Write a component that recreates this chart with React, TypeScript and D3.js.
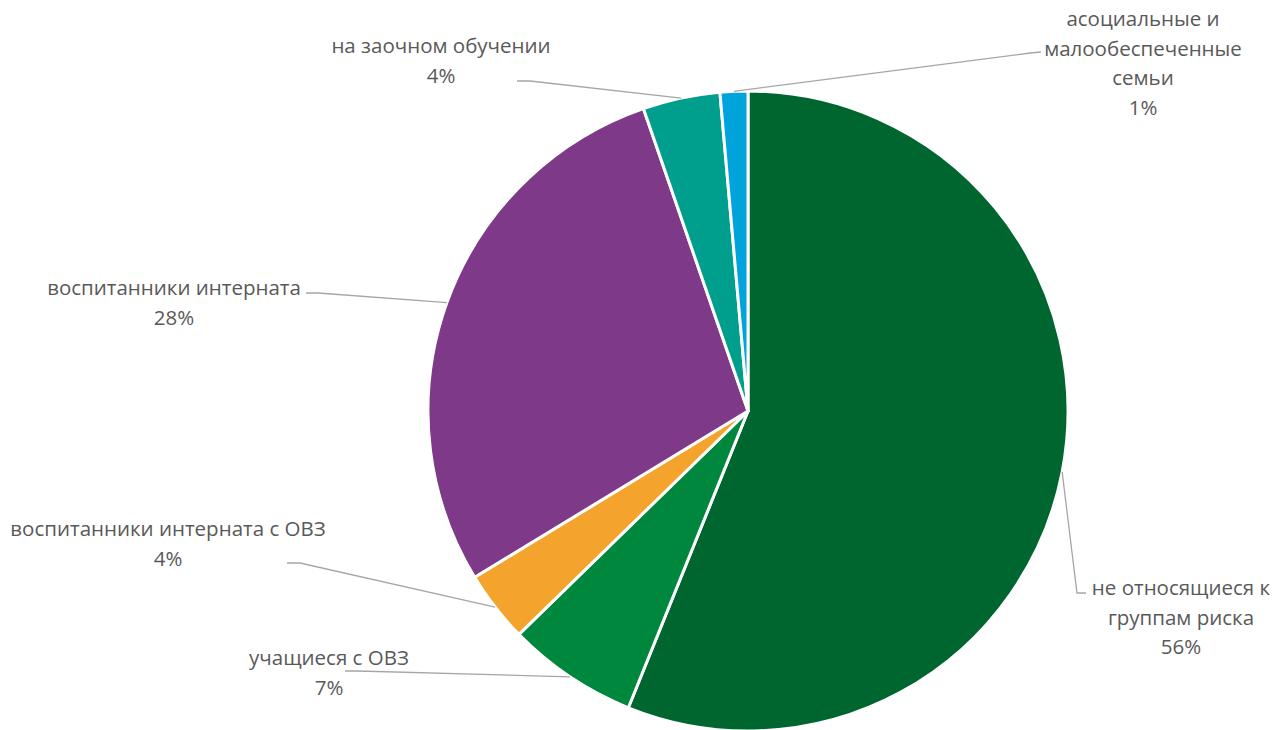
import { useEffect, useRef } from 'react';
import * as d3 from 'd3';

// Data (share of students, %)
const categories = [
  'не относящиеся к группам риска',
  'учащиеся с ОВЗ',
  'воспитанники интерната с ОВЗ',
  'воспитанники интерната',
  'на заочном обучении',
  'асоциальные и малообеспеченные семьи',
];
const values = [56.1, 6.6, 3.6, 28.4, 3.9, 1.4];
const colors = ['#00662F', '#00873E', '#F4A42C', '#7E3988', '#009E8C', '#00A3DB'];

// label text lines (as wrapped in the source chart)
const labelLines = [
  ['не относящиеся к', 'группам риска'],
  ['учащиеся с ОВЗ'],
  ['воспитанники интерната с ОВЗ'],
  ['воспитанники интерната'],
  ['на заочном обучении'],
  ['асоциальные и', 'малообеспеченные', 'семьи'],
];

// label layout: text block centre x, first line y, leader elbow and end points
const labelLayout = [
  { x: 1181, y: 587, elbow: [1077, 593], end: [1086, 593] },
  { x: 329, y: 657, elbow: [358, 671], end: [345, 671] },
  { x: 168, y: 528, elbow: [300, 563], end: [287, 563] },
  { x: 174, y: 287, elbow: [318, 293], end: [306, 293] },
  { x: 441, y: 45, elbow: [530, 81], end: [517, 81] },
  { x: 1143, y: 18, elbow: [1030, 53], end: [1041, 52] },
];

export default function App() {
  const svgRef = useRef<SVGSVGElement>(null);

  useEffect(() => {
    if (!svgRef.current) return;
    const svg = d3.select(svgRef.current);
    svg.selectAll('*').remove();

    const width = 1278;
    const height = 730;
    const cx = 748;
    const cy = 411;
    const radius = 320;

    svg.attr('width', width).attr('height', height);

    const data = categories.map((c, i) => ({ name: c, value: values[i], i }));
    const total = d3.sum(values);

    const pie = d3
      .pie<{ name: string; value: number; i: number }>()
      .sort(null)
      .value((d) => d.value);
    const arcs = pie(data);

    const arc = d3
      .arc<d3.PieArcDatum<{ name: string; value: number; i: number }>>()
      .innerRadius(0)
      .outerRadius(radius);

    const g = svg.append('g').attr('transform', `translate(${cx},${cy})`);

    g.selectAll('path')
      .data(arcs)
      .enter()
      .append('path')
      .attr('d', arc)
      .attr('fill', (d) => colors[d.data.i])
      .attr('stroke', '#ffffff')
      .attr('stroke-width', 3)
      .attr('stroke-linejoin', 'round');

    // leader lines
    arcs.forEach((a) => {
      const mid = (a.startAngle + a.endAngle) / 2;
      const px = cx + Math.sin(mid) * radius;
      const py = cy - Math.cos(mid) * radius;
      const lay = labelLayout[a.data.i];
      svg
        .append('polyline')
        .attr('points', `${px},${py} ${lay.elbow[0]},${lay.elbow[1]} ${lay.end[0]},${lay.end[1]}`)
        .attr('fill', 'none')
        .attr('stroke', '#A6A6A6')
        .attr('stroke-width', 1.3);
    });

    // labels
    const lineH = 29.5;
    arcs.forEach((a) => {
      const i = a.data.i;
      const lay = labelLayout[i];
      const lines = [...labelLines[i], `${Math.round((a.data.value / total) * 100)}%`];
      const t = svg
        .append('text')
        .attr('x', lay.x)
        .attr('y', lay.y)
        .attr('text-anchor', 'middle')
        .attr('dominant-baseline', 'central')
        .attr('fill', '#595959')
        .attr('font-family', '"Open Sans", sans-serif')
        .attr('font-size', '20.5px');
      lines.forEach((l, k) => {
        t.append('tspan')
          .attr('x', lay.x)
          .attr('y', lay.y + k * lineH)
          .text(l);
      });
    });
  }, []);

  return (
    <div style={{ position: 'absolute', left: 0, top: 0, width: 1278, height: 730, background: '#fff' }}>
      <svg ref={svgRef}></svg>
    </div>
  );
}
